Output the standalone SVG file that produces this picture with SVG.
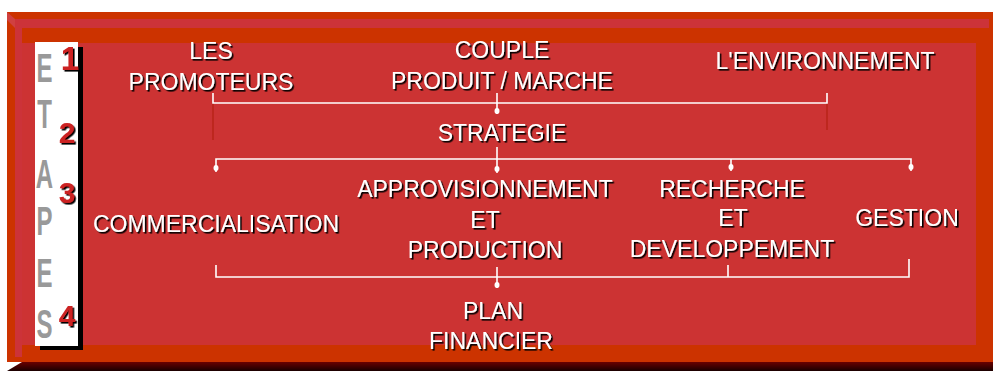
<svg xmlns="http://www.w3.org/2000/svg" width="993" height="371" viewBox="0 0 993 371">
<defs>
<style>
.lbl{font-family:"Liberation Sans",Arial,sans-serif;font-size:23px;fill:#fff;text-anchor:middle;filter:url(#ds)}
.let{font-family:"Liberation Sans",Arial,sans-serif;font-size:40px;font-weight:bold;fill:#999;text-anchor:middle}
.num{font-family:"Liberation Sans",Arial,sans-serif;font-size:30px;font-weight:bold;fill:#CC2222;text-anchor:middle;filter:url(#ds)}
.ln{stroke:#fff;stroke-width:1.6;fill:none}
.fl{stroke:#B82418;stroke-width:1.5;fill:none}
.dot{fill:#fff}
</style>
<filter id="ds" x="-10%" y="-20%" width="130%" height="160%">
<feDropShadow dx="1.6" dy="1.6" stdDeviation="0.3" flood-color="#000" flood-opacity="1"/>
</filter>
<linearGradient id="bsh" x1="0" y1="0" x2="0" y2="1">
<stop offset="0" stop-color="#6a0000"/>
<stop offset="1" stop-color="#1a0000"/>
</linearGradient>
</defs>
<rect width="993" height="371" fill="#fff"/>
<g id="frame">
<rect x="7" y="12" width="986" height="350" fill="#CC3300"/>
<rect x="15" y="19" width="974" height="9" fill="#CC3339"/>
<rect x="15" y="19" width="7" height="338" fill="#CC3339"/>
<polygon points="7,12 15,19 15,28 7,20" fill="#D04040"/>
<rect x="22" y="43" width="954" height="302" fill="#CC3333"/>
<polygon points="7,371 22,362 993,362 993,371" fill="url(#bsh)"/>
</g>
<g id="etapes">
<rect x="40" y="47" width="43" height="303" fill="#000"/>
<rect x="35" y="42" width="43" height="304" fill="#fff"/>
<text class="let" transform="translate(44.5,82) scale(0.6,1)">E</text>
<text class="let" transform="translate(44.5,128) scale(0.6,1)">T</text>
<text class="let" transform="translate(44.5,188) scale(0.6,1)">A</text>
<text class="let" transform="translate(44.5,235) scale(0.6,1)">P</text>
<text class="let" transform="translate(44.5,287) scale(0.6,1)">E</text>
<text class="let" transform="translate(44.5,338) scale(0.6,1)">S</text>
<text class="num" x="70" y="70" style="font-size:33px">1</text>
<text class="num" x="67" y="143">2</text>
<text class="num" x="67" y="203">3</text>
<text class="num" x="67" y="326">4</text>
</g>
<g id="connectors">
<path class="fl" d="M213,103 V140 M827,103 V130"/>
<path class="ln" d="M213,93 V103 H827 V93"/>
<path class="ln" d="M497,93 V114"/>
<ellipse class="dot" cx="497" cy="111" rx="2.5" ry="3"/>
<path class="ln" d="M216,172 V159 H911 V171 M731,159 V171"/>
<ellipse class="dot" cx="216" cy="168" rx="2.5" ry="3"/>
<ellipse class="dot" cx="731" cy="167" rx="2.5" ry="3"/>
<ellipse class="dot" cx="911" cy="167" rx="2.5" ry="3"/>
<path class="ln" d="M497,147 V173"/>
<ellipse class="dot" cx="497" cy="169" rx="2.5" ry="3"/>
<path class="ln" d="M216,265 V277 H909 V259 M728,265 V277"/>
<path class="ln" d="M497,267 V288"/>
<ellipse class="dot" cx="497" cy="285" rx="2.5" ry="3"/>
</g>
<g id="promoteurs"><text class="lbl" x="211" y="59">LES</text><text class="lbl" x="211" y="90">PROMOTEURS</text></g>
<g id="couple"><text class="lbl" x="502" y="58">COUPLE</text><text class="lbl" x="502" y="89">PRODUIT / MARCHE</text></g>
<g id="environnement"><text class="lbl" x="825" y="69">L'ENVIRONNEMENT</text></g>
<g id="strategie"><text class="lbl" x="502" y="141">STRATEGIE</text></g>
<g id="commercialisation"><text class="lbl" x="216" y="232">COMMERCIALISATION</text></g>
<g id="approvisionnement"><text class="lbl" x="485" y="197">APPROVISIONNEMENT</text><text class="lbl" x="485" y="228">ET</text><text class="lbl" x="485" y="258">PRODUCTION</text></g>
<g id="recherche"><text class="lbl" x="732" y="197">RECHERCHE</text><text class="lbl" x="733" y="226">ET</text><text class="lbl" x="732" y="257">DEVELOPPEMENT</text></g>
<g id="gestion"><text class="lbl" x="907" y="226">GESTION</text></g>
<g id="plan"><text class="lbl" x="493" y="319">PLAN</text><text class="lbl" x="491" y="349">FINANCIER</text></g>
</svg>
